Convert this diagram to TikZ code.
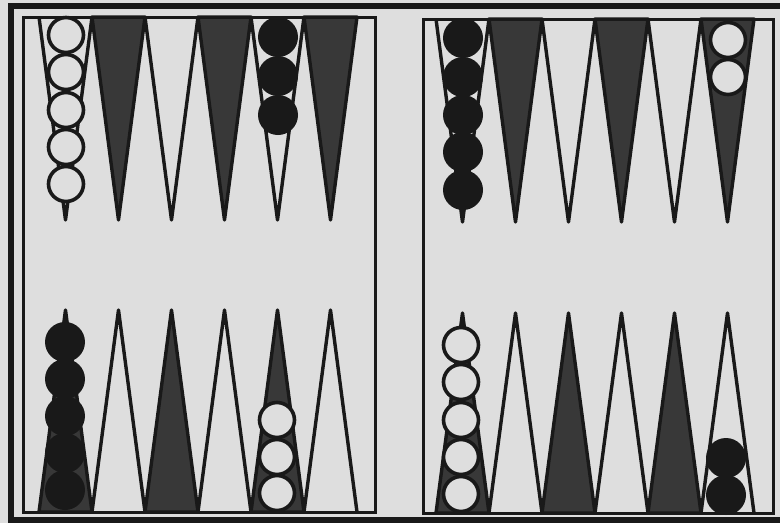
\documentclass[tikz,border=0pt]{standalone}
\definecolor{paper}{gray}{0.87}
\definecolor{ptgray}{gray}{0.22}
\definecolor{ink}{gray}{0.1}
\begin{document}
\begin{tikzpicture}[
  x=1pt, y=-1pt,
  wchk/.style={circle, draw=ink, line width=3.6pt, fill=paper, minimum size=35pt, inner sep=0pt},
  bchk/.style={circle, fill=ink, minimum size=40pt, inner sep=0pt},
  lpt/.style={draw=ink, line width=3.4pt, line join=round},
  dpt/.style={draw=ink, fill=ptgray, line width=3.4pt, line join=round},
  panel/.style={draw=ink, line width=3pt},
  outer/.style={draw=ink, line width=5.5pt}
]
  \useasboundingbox (0,0) rectangle (780,523);
  \fill[paper] (0,0) rectangle (780,523);

  % left half, upper points
  \draw[lpt] (39,17) -- (65.5,220) -- (92,17);
  \draw[dpt] (92,17) -- (118.5,220) -- (145,17) -- cycle;
  \draw[lpt] (145,17) -- (171.5,220) -- (198,17);
  \draw[dpt] (198,17) -- (224.5,220) -- (251,17) -- cycle;
  \draw[lpt] (251,17) -- (277.5,220) -- (304,17);
  \draw[dpt] (304,17) -- (330.5,220) -- (357,17) -- cycle;

  % left half, lower points
  \draw[dpt] (39,512) -- (65.5,310) -- (92,512) -- cycle;
  \draw[lpt] (92,512) -- (118.5,310) -- (145,512);
  \draw[dpt] (145,512) -- (171.5,310) -- (198,512) -- cycle;
  \draw[lpt] (198,512) -- (224.5,310) -- (251,512);
  \draw[dpt] (251,512) -- (277.5,310) -- (304,512) -- cycle;
  \draw[lpt] (304,512) -- (330.5,310) -- (357,512);

  % right half, upper points
  \draw[lpt] (436,19) -- (462.5,222) -- (489,19);
  \draw[dpt] (489,19) -- (515.5,222) -- (542,19) -- cycle;
  \draw[lpt] (542,19) -- (568.5,222) -- (595,19);
  \draw[dpt] (595,19) -- (621.5,222) -- (648,19) -- cycle;
  \draw[lpt] (648,19) -- (674.5,222) -- (701,19);
  \draw[dpt] (701,19) -- (727.5,222) -- (754,19) -- cycle;

  % right half, lower points
  \draw[dpt] (436,513) -- (462.5,313) -- (489,513) -- cycle;
  \draw[lpt] (489,513) -- (515.5,313) -- (542,513);
  \draw[dpt] (542,513) -- (568.5,313) -- (595,513) -- cycle;
  \draw[lpt] (595,513) -- (621.5,313) -- (648,513);
  \draw[dpt] (648,513) -- (674.5,313) -- (701,513) -- cycle;
  \draw[lpt] (701,513) -- (727.5,313) -- (754,513);

  % the two halves and the outer frame
  \draw[panel] (23,17) rectangle (375,512);
  \draw[panel] (423,19) rectangle (773,513);
  \draw[outer] (780,6) -- (11,6) -- (11,520) -- (780,520);

  % checkers, upper left
  \node[wchk] (wa1) at (66,35) {};
  \node[wchk] (wa2) at (66,72) {};
  \node[wchk] (wa3) at (66,110) {};
  \node[wchk] (wa4) at (66,147) {};
  \node[wchk] (wa5) at (66,184) {};
  \node[bchk] (ba1) at (278,37) {};
  \node[bchk] (ba2) at (278,76) {};
  \node[bchk] (ba3) at (278,115) {};

  % checkers, upper right
  \node[bchk] (bb1) at (463,38) {};
  \node[bchk] (bb2) at (463,77) {};
  \node[bchk] (bb3) at (463,115) {};
  \node[bchk] (bb4) at (463,152) {};
  \node[bchk] (bb5) at (463,190) {};
  \node[wchk] (wb1) at (728,40) {};
  \node[wchk] (wb2) at (728,77) {};

  % checkers, lower left
  \node[bchk] (bc1) at (65,342) {};
  \node[bchk] (bc2) at (65,379) {};
  \node[bchk] (bc3) at (65,416) {};
  \node[bchk] (bc4) at (65,453) {};
  \node[bchk] (bc5) at (65,490) {};
  \node[wchk] (wc1) at (277,420) {};
  \node[wchk] (wc2) at (277,457) {};
  \node[wchk] (wc3) at (277,493) {};

  % checkers, lower right
  \node[wchk] (wd1) at (461,345) {};
  \node[wchk] (wd2) at (461,382) {};
  \node[wchk] (wd3) at (461,420) {};
  \node[wchk] (wd4) at (461,457) {};
  \node[wchk] (wd5) at (461,494) {};
  \node[bchk] (bd1) at (726,458) {};
  \node[bchk] (bd2) at (726,495) {};
\end{tikzpicture}
\end{document}
